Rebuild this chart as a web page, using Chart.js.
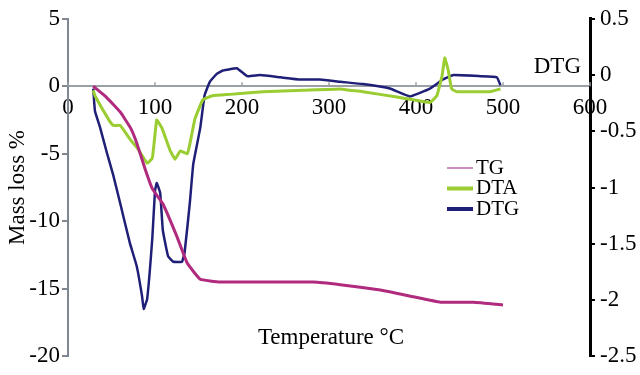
<!DOCTYPE html>
<html>
<head>
<meta charset="utf-8">
<script src="https://cdn.jsdelivr.net/npm/chart.js@4/dist/chart.umd.min.js"></script>
<style>
  html, body { margin: 0; padding: 0; background: #fff; }
  #wrap { width: 640px; height: 375px; position: relative; }
</style>
</head>
<body>
<div id="wrap"><canvas id="thermoChart"></canvas></div>
<script>
// --- data ---
const tgTemp = [29, 44, 60, 72, 79, 89, 97, 109, 125, 137, 152, 175, 282, 313, 359, 397, 428, 466, 500];
const tgMass = [0, -0.8, -1.9, -3.1, -4.2, -6.2, -7.6, -8.7, -11.1, -13.1, -14.3, -14.5, -14.5, -14.7, -15.1, -15.6, -16.0, -16.0, -16.2];

const dtaTemp = [29, 31, 48, 52, 60, 71, 80, 91, 97, 102, 108, 117, 123, 129, 137, 140, 146, 155, 166, 186, 224, 270, 313, 324, 339, 378, 397, 416, 424, 430, 433, 437, 441, 447, 485, 497];
const dtaVal = [-0.3, -0.7, -2.6, -2.9, -2.9, -3.9, -4.6, -5.7, -5.3, -2.5, -3.1, -4.7, -5.4, -4.8, -5.0, -4.3, -2.4, -1.0, -0.7, -0.6, -0.4, -0.3, -0.2, -0.3, -0.4, -0.8, -1.0, -1.2, -0.7, 0.8, 2.1, 1.2, -0.2, -0.4, -0.4, -0.2];

const dtgTemp = [29, 31, 37, 45, 52, 60, 71, 79, 85, 87, 91, 97, 100, 102, 106, 109, 115, 121, 131, 134, 140, 144, 152, 157, 163, 171, 178, 194, 206, 221, 244, 267, 290, 313, 339, 370, 393, 416, 431, 443, 474, 493, 497];
const dtgVal = [-0.12, -0.32, -0.47, -0.70, -0.89, -1.14, -1.49, -1.70, -1.96, -2.08, -1.99, -1.44, -1.03, -0.96, -1.05, -1.38, -1.61, -1.66, -1.66, -1.58, -1.14, -0.79, -0.47, -0.18, -0.06, 0.01, 0.04, 0.06, -0.01, 0, -0.02, -0.04, -0.04, -0.06, -0.08, -0.12, -0.19, -0.12, -0.04, 0, -0.01, -0.02, -0.09];

const xTicks = [0, 100, 200, 300, 400, 500, 600];

const serif = '"Liberation Serif", "Times New Roman", serif';
const toPoints = (xs, ys) => xs.map((x, i) => ({ x: x, y: ys[i] }));

// extra texts, small upward x ticks and the legend, drawn over the chart
const extrasPlugin = {
    id: 'extras',
    afterDraw(chart) {
        const ctx = chart.ctx;
        const xs = chart.scales.x;
        const y0 = chart.scales.y.getPixelForValue(0);
        ctx.save();

        // x ticks point up from the zero line
        ctx.strokeStyle = '#9aa0a6';
        ctx.lineWidth = 1.5;
        xs.ticks.forEach(t => {
            const px = xs.getPixelForValue(t.value);
            ctx.beginPath();
            ctx.moveTo(px, y0);
            ctx.lineTo(px, y0 - 4);
            ctx.stroke();
        });

        ctx.fillStyle = '#000';
        ctx.textBaseline = 'middle';

        // x axis title sits inside the plot, near the bottom
        ctx.font = '23px ' + serif;
        ctx.textAlign = 'center';
        ctx.fillText('Temperature \u00B0C', 331, 338);

        // DTG label beside the right axis
        ctx.textAlign = 'right';
        ctx.fillText('DTG', 581, 67);

        // legend
        const legendLines = [
            { color: '#c98fc0', width: 2 },
            { color: '#9acd32', width: 4 },
            { color: '#1f1f78', width: 4 }
        ];
        ctx.font = '21px ' + serif;
        ctx.textAlign = 'left';
        chart.data.datasets.forEach((ds, i) => {
            const y = 168 + i * 20.5;
            ctx.strokeStyle = legendLines[i].color;
            ctx.lineWidth = legendLines[i].width;
            ctx.beginPath();
            ctx.moveTo(447, y);
            ctx.lineTo(473, y);
            ctx.stroke();
            ctx.fillText(ds.label, 476, y);
        });
        ctx.restore();
    }
};

const ctxThermo = document.getElementById('thermoChart').getContext('2d');
new Chart(ctxThermo, {
    type: 'line',
    data: {
        datasets: [
            {
                label: 'TG',
                data: toPoints(tgTemp, tgMass),
                borderColor: '#b02a7e',
                borderWidth: 3,
                pointRadius: 0,
                tension: 0.1,
                yAxisID: 'y'
            },
            {
                label: 'DTA',
                data: toPoints(dtaTemp, dtaVal),
                borderColor: '#9acd32',
                borderWidth: 3,
                pointRadius: 0,
                tension: 0.1,
                yAxisID: 'y'
            },
            {
                label: 'DTG',
                data: toPoints(dtgTemp, dtgVal),
                borderColor: '#1f1f78',
                borderWidth: 2.5,
                pointRadius: 0,
                tension: 0.1,
                yAxisID: 'y1'
            }
        ]
    },
    options: {
        responsive: true,
        maintainAspectRatio: false,
        animation: false,
        layout: { padding: { top: 16, bottom: 17, left: 0, right: 0 } },
        plugins: {
            legend: { display: false },
            tooltip: { enabled: false }
        },
        scales: {
            x: {
                type: 'linear',
                position: { y: 0 },
                min: 0,
                max: 600,
                afterBuildTicks: s => { s.ticks = xTicks.map(v => ({ value: v })); },
                grid: { drawOnChartArea: false, drawTicks: false },
                border: { color: '#9aa0a6', width: 2 },
                ticks: { color: '#000', padding: 8, maxRotation: 0, font: { family: serif, size: 23 } }
            },
            y: {
                position: 'left',
                min: -20,
                max: 5,
                ticks: { stepSize: 5, color: '#000', padding: 2, callback: v => String(v), font: { family: serif, size: 23 } },
                grid: { drawOnChartArea: false, tickLength: 6, color: '#7f8790', lineWidth: 2 },
                border: { color: '#7f8790', width: 2 },
                title: { display: true, text: 'Mass loss %', color: '#000', padding: 4, font: { family: serif, size: 23 } },
                afterFit: s => { s.width = 68; }
            },
            y1: {
                position: 'right',
                min: -2.5,
                max: 0.5,
                ticks: { stepSize: 0.5, color: '#000', padding: 5, callback: v => String(v), font: { family: serif, size: 23 } },
                grid: { drawOnChartArea: false, tickLength: 5, color: '#000', lineWidth: 2 },
                border: { color: '#000', width: 3 },
                afterFit: s => { s.width = 50; }
            }
        }
    },
    plugins: [extrasPlugin]
});
</script>
</body>
</html>
